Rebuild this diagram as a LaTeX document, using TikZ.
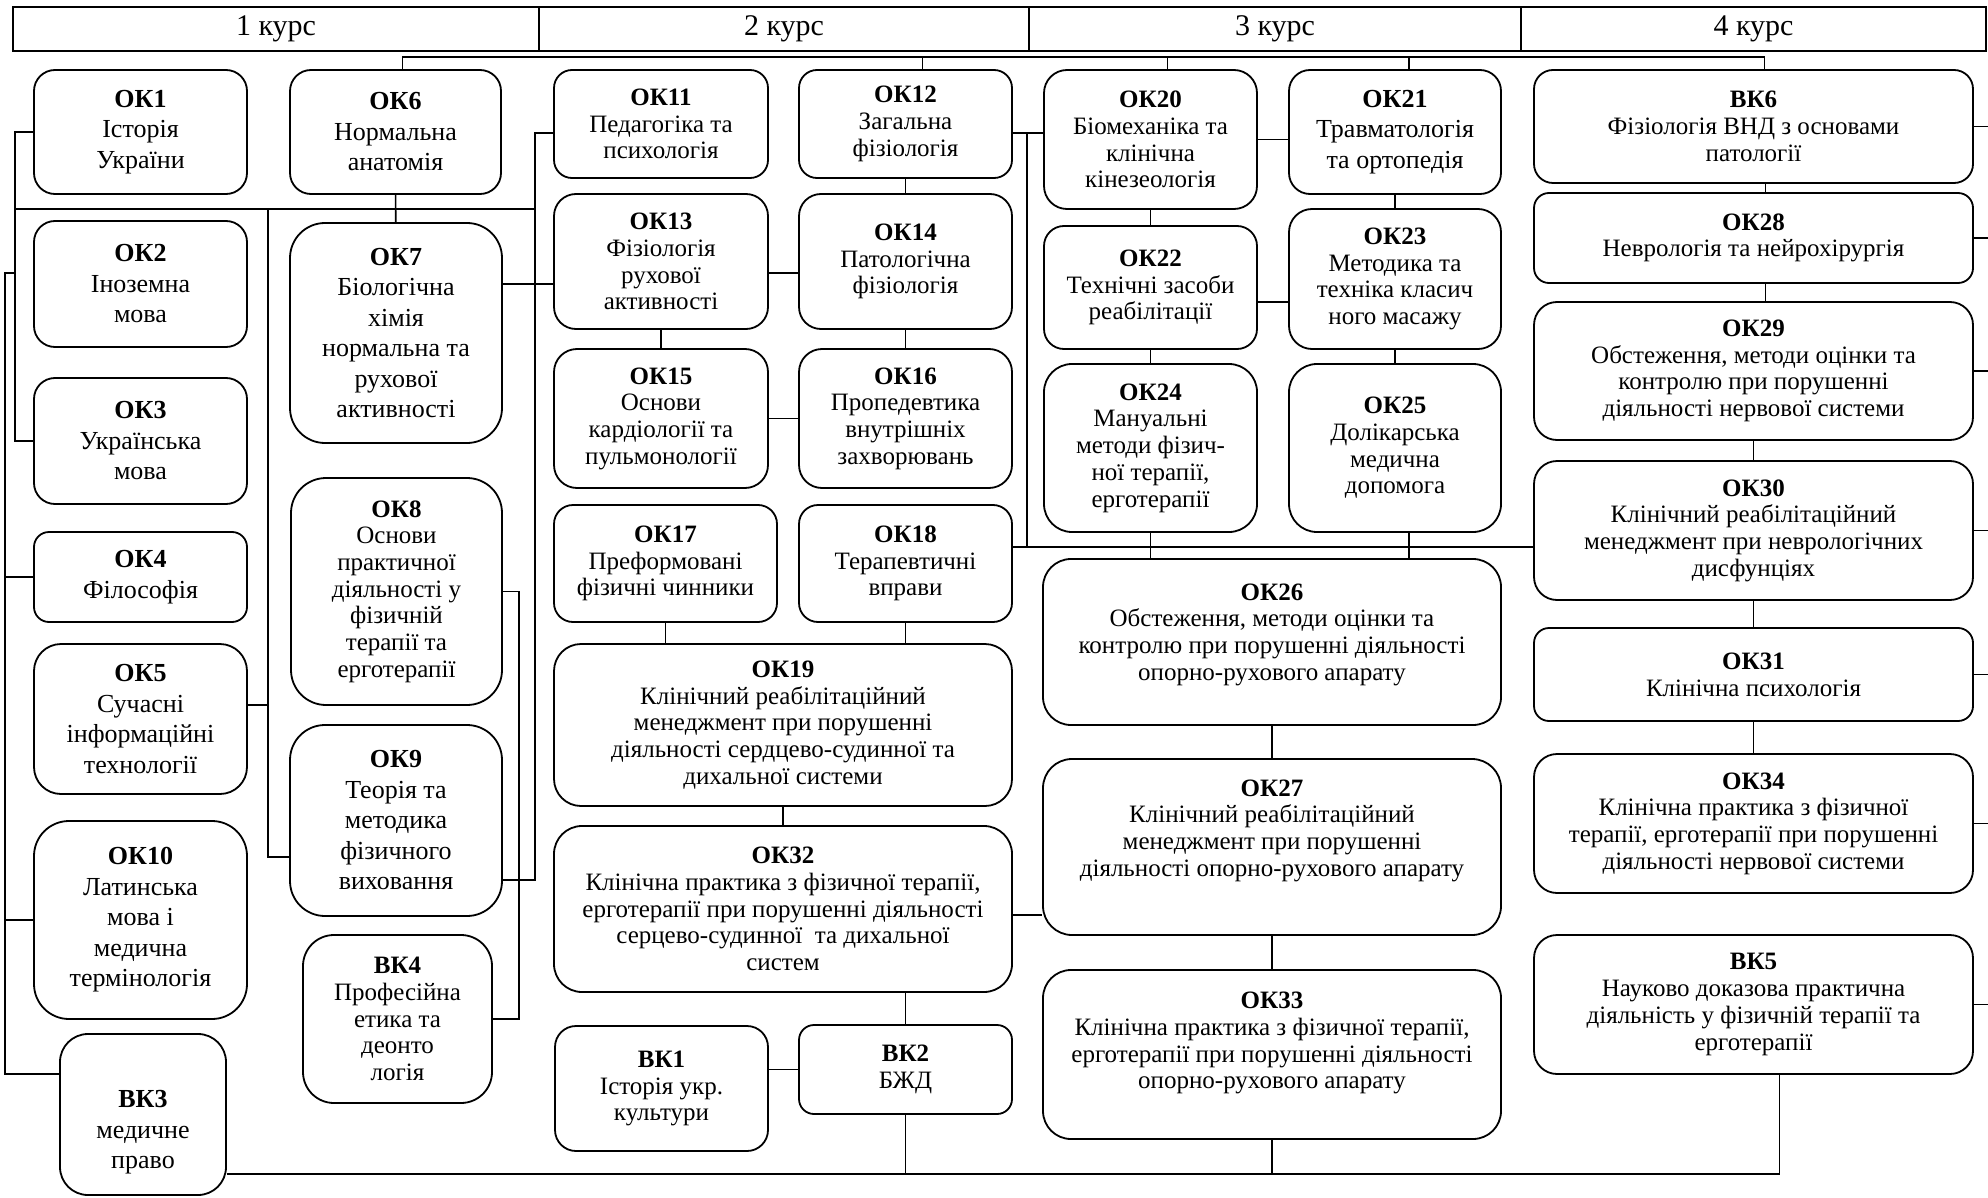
\documentclass[tikz,border=0pt]{standalone}
\usepackage{fontspec}
\setmainfont{Liberation Serif}
\usepackage{tikz}

\tikzset{
  subj/.style n args={3}{draw, line width=1.8pt, rounded corners=#3pt, minimum width=#1pt, minimum height=#2pt, inner sep=0pt, align=center, font=\fontsize{25}{26.7}\selectfont},
  spaced/.style={font=\fontsize{26}{30.5}\selectfont},
  kurs/.style={draw, line width=2.4pt, minimum width=#1pt, minimum height=44pt, inner sep=0pt, font=\fontsize{30}{34}\selectfont},
  link/.style={line width=1.6pt}
}

\begin{document}
\begin{tikzpicture}[x=1pt, y=-1pt]

        \useasboundingbox (0,0) rectangle (1988,1198);

        % Курси
        \node[kurs=526] (k1) at (276,29) {1 курс};
        \node[kurs=490] (k2) at (784,29) {2 курс};
        \node[kurs=492] (k3) at (1275,29) {3 курс};
        \node[kurs=465] (k4) at (1753.5,29) {4 курс};

        % 1 курс
        \node[subj={213}{124}{21}, spaced] (ok1) at (140.5,132) {\textbf{ОК1}\\Історія\\України};
        \node[subj={213}{126}{21}, spaced] (ok2) at (140.5,284) {\textbf{ОК2}\\Іноземна\\мова};
        \node[subj={213}{126}{21}, spaced] (ok3) at (140.5,441) {\textbf{ОК3}\\Українська\\мова};
        \node[subj={213}{90}{15}, spaced] (ok4) at (140.5,577) {\textbf{ОК4}\\Філософія};
        \node[subj={213}{150}{27}, spaced] (ok5) at (140.5,719) {\textbf{ОК5}\\Сучасні\\інформаційні\\технології};
        \node[subj={213}{198}{35}, spaced] (ok10) at (140.5,920) {\textbf{ОК10}\\Латинська\\мова і\\медична\\термінологія};
        \node[subj={166}{161}{28}, spaced] (vk3) at (143,1114.5) {\rule{0pt}{53pt}\textbf{ВК3}\\медичне\\право};
        \node[subj={211}{124}{21}, spaced] (ok6) at (395.5,132) {\textbf{ОК6}\\Нормальна\\анатомія};
        \node[subj={212}{220}{35}, spaced] (ok7) at (396,333) {\textbf{ОК7}\\Біологічна\\хімія\\нормальна та\\рухової\\активності};
        \node[subj={211}{227}{35}] (ok8) at (396.5,591.5) {\textbf{ОК8}\\Основи\\практичної\\діяльності у\\фізичній\\терапії та\\ерготерапії};
        \node[subj={212}{191}{35}, spaced] (ok9) at (396,820.5) {\textbf{ОК9}\\Теорія та\\методика\\фізичного\\виховання};
        \node[subj={189}{168}{31}] (vk4) at (397.5,1019) {\textbf{ВК4}\\Професійна\\етика та\\деонто\\логія};

        % 2 курс
        \node[subj={214}{108}{18}] (ok11) at (661,124) {\textbf{ОК11}\\Педагогіка та\\психологія};
        \node[subj={213}{108}{18}] (ok12) at (905.5,124) {\textbf{ОК12}\\Загальна\\фізіологія};
        \node[subj={214}{135}{22}] (ok13) at (661,261.5) {\textbf{ОК13}\\Фізіологія\\рухової\\активності};
        \node[subj={213}{135}{22}] (ok14) at (905.5,261.5) {\textbf{ОК14}\\Патологічна\\фізіологія};
        \node[subj={214}{139}{23}] (ok15) at (661,418.5) {\textbf{ОК15}\\Основи\\кардіології та\\пульмонології};
        \node[subj={213}{139}{23}] (ok16) at (905.5,418.5) {\textbf{ОК16}\\Пропедевтика\\внутрішніх\\захворювань};
        \node[subj={223}{117}{19}] (ok17) at (665.5,563.5) {\textbf{ОК17}\\Преформовані\\фізичні чинники};
        \node[subj={213}{117}{19}] (ok18) at (905.5,563.5) {\textbf{ОК18}\\Терапевтичні\\вправи};
        \node[subj={458}{162}{27}] (ok19) at (783,725) {\textbf{ОК19}\\Клінічний реабілітаційний\\менеджмент при порушенні\\діяльності сердцево-судинної та\\дихальної системи};
        \node[subj={458}{166}{28}] (ok32) at (783,909) {\textbf{ОК32}\\Клінічна практика з фізичної терапії,\\ерготерапії при порушенні діяльності\\серцево-судинної\ \ та дихальної\\систем};
        \node[subj={213}{125}{21}] (vk1) at (661.5,1088.5) {\textbf{ВК1}\\Історія укр.\\культури};
        \node[subj={213}{89}{15}] (vk2) at (905.5,1069.5) {\textbf{ВК2}\\БЖД};

        % 3 курс
        \node[subj={213}{139}{23}] (ok20) at (1150.5,139.5) {\textbf{ОК20}\\Біомеханіка та\\клінічна\\кінезеологія};
        \node[subj={212}{124}{21}, spaced] (ok21) at (1395,132) {\textbf{ОК21}\\Травматологія\\та ортопедія};
        \node[subj={213}{123}{20}] (ok22) at (1150.5,287.5) {\textbf{ОК22}\\Технічні засоби\\реабілітації};
        \node[subj={212}{140}{23}] (ok23) at (1395,279) {\textbf{ОК23}\\Методика та\\техніка класич\\ного масажу};
        \node[subj={213}{168}{28}] (ok24) at (1150.5,448) {\textbf{ОК24}\\Мануальні\\методи фізич-\\ної терапії,\\ерготерапії};
        \node[subj={212}{168}{28}] (ok25) at (1395,448) {\textbf{ОК25}\\Долікарська\\медична\\допомога};
        \node[subj={458}{166}{28}] (ok26) at (1272,642) {\textbf{ОК26}\\Обстеження, методи оцінки та\\контролю при порушенні діяльності\\опорно-рухового апарату\rule[-20pt]{0pt}{0pt}};
        \node[subj={458}{176}{29}] (ok27) at (1272,847) {\textbf{ОК27}\\Клінічний реабілітаційний\\менеджмент при порушенні\\діяльності опорно-рухового апарату\rule[-38pt]{0pt}{0pt}};
        \node[subj={458}{169}{28}] (ok33) at (1272,1054.5) {\textbf{ОК33}\\Клінічна практика з фізичної терапії,\\ерготерапії при порушенні діяльності\\опорно-рухового апарату\rule[-28pt]{0pt}{0pt}};

        % 4 курс
        \node[subj={439}{113}{19}] (vk6) at (1753.5,126.5) {\textbf{ВК6}\\Фізіологія ВНД з основами\\патології};
        \node[subj={439}{90}{15}] (ok28) at (1753.5,238) {\textbf{ОК28}\\Неврологія та нейрохірургія};
        \node[subj={439}{138}{23}] (ok29) at (1753.5,371) {\textbf{ОК29}\\Обстеження, методи оцінки та\\контролю при порушенні\\діяльності нервової системи};
        \node[subj={439}{139}{23}] (ok30) at (1753.5,530.5) {\textbf{ОК30}\\Клінічний реабілітаційний\\менеджмент при неврологічних\\дисфунціях};
        \node[subj={439}{93}{15}] (ok31) at (1753.5,674.5) {\textbf{ОК31}\\Клінічна психологія};
        \node[subj={439}{139}{23}] (ok34) at (1753.5,823.5) {\textbf{ОК34}\\Клінічна практика з фізичної\\терапії, ерготерапії при порушенні\\діяльності нервової системи};
        \node[subj={439}{139}{23}] (vk5) at (1753.5,1004.5) {\textbf{ВК5}\\Науково доказова практична\\діяльність у фізичній терапії та\\ерготерапії};

        % Опорні лінії
        \coordinate (lb) at (5,0);
        \coordinate (la) at (15,0);
        \coordinate (lm) at (268,0);
        \coordinate (ld) at (519,0);
        \coordinate (lc) at (535,0);
        \coordinate (le) at (1027,0);
        \coordinate (topbus) at (0,57);
        \coordinate (row) at (0,209);
        \coordinate (bot) at (0,1174);
        \coordinate (edge) at (1988,0);

        % Верхня шина
        \draw[link] ([xshift=7]ok6.north) |- ([xshift=11]vk6.north |- topbus) -- ([xshift=11]vk6.north);
        \draw[link] ([xshift=17]ok12.north) -- ([xshift=17]ok12.north |- topbus);
        \draw[link] ([xshift=17]ok20.north) -- ([xshift=17]ok20.north |- topbus);
        \draw[link] ([xshift=14]ok21.north) -- ([xshift=14]ok21.north |- topbus);

        % Зв'язки 1 курсу
        \draw[link] (ok1.west) -| (la |- ok3.west) -- (ok3.west);
        \draw[link] (la |- row) -- (lc |- row);
        \draw[link] (la |- 0,273) -| (lb |- 0,1074) -- (vk3.west |- 0,1074);
        \draw[link] (lb |- ok4.west) -- (ok4.west);
        \draw[link] (lb |- ok10.west) -- (ok10.west);
        \draw[link] (lm |- row) |- (ok9.west |- 0,857);
        \draw[link] (ok5.east |- 0,705) -- (lm |- 0,705);
        \draw[link] (ok6) -- (ok7);
        \draw[link] (ok11.west |- 0,133) -| (lc |- 0,880) -- (ok9.east |- 0,880);
        \draw[link] (ok7.east |- 0,284) -- (ok13.west |- 0,284);
        \draw[link] (ok8.east) -| (ld |- vk4.east) -- (vk4.east);

        % Зв'язки 2 курсу
        \draw[link] (ok12) -- (ok14);
        \draw[link] (ok13.east |- 0,273) -- (ok14.west |- 0,273);
        \draw[link] (ok13) -- (ok15);
        \draw[link] (ok14) -- (ok16);
        \draw[link] (ok15) -- (ok16);
        \draw[link] (ok17.south) -- (ok17.south |- ok19.north);
        \draw[link] (ok18.south) -- (ok18.south |- ok19.north);
        \draw[link] (ok19) -- (ok32);
        \draw[link] (ok32.south -| vk2.north) -- (vk2.north);
        \draw[link] (vk2.west) -- (vk2.west -| vk1.east);

        % Зв'язки між курсами
        \draw[link] (ok12.east |- 0,133) -- (ok20.west |- 0,133);
        \draw[link] (le |- 0,133) -- (le |- 0,547);
        \draw[link] (ok18.east |- 0,547) -- (ok30.west |- 0,547);
        \draw[link] (ok32.east |- 0,915) -- (ok27.west |- 0,915);

        % Зв'язки 3 курсу
        \draw[link] (ok20.east) -- (ok20.east -| ok21.west);
        \draw[link] (ok20) -- (ok22);
        \draw[link] (ok21) -- (ok23);
        \draw[link] (ok22.east |- 0,302) -- (ok23.west |- 0,302);
        \draw[link] (ok22) -- (ok24);
        \draw[link] (ok23) -- (ok25);
        \draw[link] (ok24.south) -- (ok24.south |- ok26.north);
        \draw[link] ([xshift=14]ok25.south) -- ([xshift=14]ok25.south |- ok26.north);
        \draw[link] (ok26) -- (ok27);
        \draw[link] (ok27) -- (ok33);

        % Зв'язки 4 курсу
        \draw[link] ([xshift=12]vk6.south) -- ([xshift=12]vk6.south |- ok28.north);
        \draw[link] ([xshift=12]ok28.south) -- ([xshift=12]ok28.south |- ok29.north);
        \draw[link] (ok29) -- (ok30);
        \draw[link] (ok30) -- (ok31);
        \draw[link] (ok31) -- (ok34);
        \draw[link] (vk6.east) -- (vk6.east -| edge);
        \draw[link] (ok28.east) -- (ok28.east -| edge);
        \draw[link] (ok29.east) -- (ok29.east -| edge);
        \draw[link] (ok30.east) -- (ok30.east -| edge);
        \draw[link] (ok31.east) -- (ok31.east -| edge);
        \draw[link] (ok34.east) -- (ok34.east -| edge);
        \draw[link] (vk5.east) -- (vk5.east -| edge);

        % Нижня шина
        \draw[link] ([xshift=26]vk5.south) |- (vk3.east |- bot);
        \draw[link] (vk2.south) -- (vk2.south |- bot);
        \draw[link] (ok33.south) -- (ok33.south |- bot);

    \end{tikzpicture}
\end{document}
